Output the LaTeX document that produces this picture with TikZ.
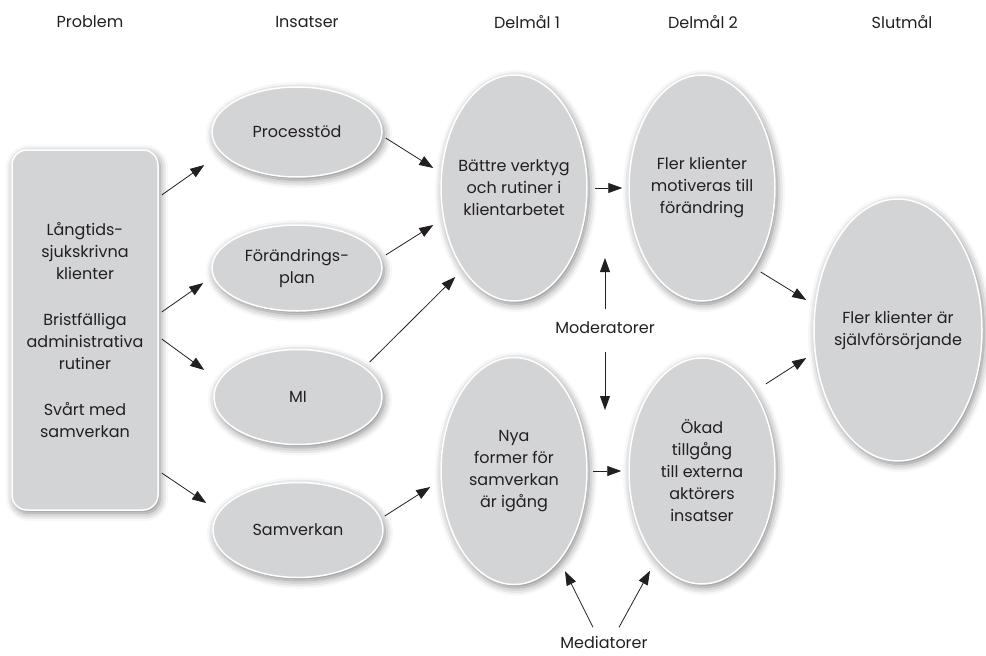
\documentclass[tikz,border=0pt]{standalone}
\usepackage{fontspec}
\setmainfont{Poppins}
\usetikzlibrary{shapes.geometric,arrows.meta,shadows.blur}

\definecolor{cellgray}{RGB}{211,212,214}
\definecolor{inkgray}{RGB}{35,31,32}

\begin{document}
\begin{tikzpicture}[
    x=1pt, y=-1pt,
    font=\fontsize{16}{22}\selectfont,
    every node/.style={text=inkgray},
    soft/.style={blur shadow={shadow xshift=2pt, shadow yshift=-3pt, shadow blur radius=8pt, shadow opacity=50}},
    goal/.style 2 args={ellipse, soft, fill=cellgray, draw=white, line width=1.5pt, align=center,
        inner xsep=-20pt, inner ysep=0pt, minimum width=#1, minimum height=#2},
    problembox/.style={rectangle, soft, rounded corners=15pt, fill=cellgray, draw=white, line width=1.5pt,
        align=center, minimum width=146pt, minimum height=360pt},
    arrow/.style={-{Triangle[length=14pt,width=10pt]}, line width=0.8pt, draw=inkgray}
]
    \useasboundingbox (0,0) rectangle (986,656);

    % column heads
    \node (hprob) at (90,22) {Problem};
    \node (hins) at (307,22) {Insatser};
    \node (hdel1) at (527,22) {Delmål 1};
    \node (hdel2) at (703,22) {Delmål 2};
    \node (hslut) at (902,22) {Slutmål};

    % problem
    \node[problembox] (prob) at (85,330) {Långtids-\\sjukskrivna\\klienter\\[24pt]
        Bristfälliga\\administrativa\\rutiner\\[24pt]Svårt med\\samverkan};

    % insatser
    \node[goal={170pt}{90pt}] (proc) at (297,132) {Processtöd};
    \node[goal={170pt}{86pt}] (plan) at (297,268) {Förändrings-\\plan};
    \node[goal={168pt}{95pt}] (mi) at (298,397) {MI};
    \node[goal={170pt}{95pt}] (samv) at (298,530) {Samverkan};

    % delmal
    \node[goal={146pt}{226pt}] (verk) at (514,188) {Bättre verktyg\\och rutiner i\\klientarbetet};
    \node[goal={146pt}{226pt}] (motiv) at (702,188) {Fler klienter\\motiveras till\\förändring};
    \node[goal={146pt}{227pt}] (nya) at (514,471) {Nya\\former för\\samverkan\\är igång};
    \node[goal={146pt}{226pt}] (okad) at (702,471) {Ökad\\tillgång\\till externa\\aktörers\\insatser};

    % slutmal
    \node[goal={168pt}{262pt}] (slut) at (898,330) {Fler klienter är\\självförsörjande};

    \node (mod) at (605,328) {Moderatorer};
    \node (med) at (604,642) {Mediatorer};
    \coordinate (modup) at (605,258);
    \coordinate (moddown) at (605,410);

    % problem to insatser
    \draw[arrow] ([shift={(3pt,135pt)}]prob.east) -- ([shift={(-7pt,-33pt)}]proc.west);
    \draw[arrow] ([shift={(3pt,18pt)}]prob.east) -- ([shift={(-8pt,-15pt)}]plan.west);
    \draw[arrow] ([shift={(3pt,-9pt)}]prob.east) -- ([shift={(-9pt,27pt)}]mi.west);
    \draw[arrow] ([shift={(3pt,-143pt)}]prob.east) -- ([shift={(-6pt,27pt)}]samv.west);

    % insatser to delmal 1
    \draw[arrow] ([shift={(3pt,-6pt)}]proc.east) -- ([shift={(-7pt,20pt)}]verk.west);
    \draw[arrow] ([shift={(3pt,13pt)}]plan.east) -- ([shift={(-7pt,-37pt)}]verk.west);
    \draw[arrow] ([shift={(-13pt,35pt)}]mi.east) -- ([shift={(15pt,-89pt)}]verk.west);
    \draw[arrow] ([shift={(1pt,14pt)}]samv.east) -- ([shift={(-10pt,-16pt)}]nya.west);

    % delmal 1 to delmal 2
    \draw[arrow] ([xshift=7pt]verk.east) -- ([xshift=-6pt]motiv.west);
    \draw[arrow] ([xshift=5pt]nya.east) -- ([xshift=-7pt]okad.west);

    % delmal 2 to slutmal
    \draw[arrow] ([shift={(-15pt,-84pt)}]motiv.east) -- ([shift={(-7pt,30pt)}]slut.west);
    \draw[arrow] ([shift={(-10pt,87pt)}]okad.east) -- ([shift={(-7pt,-28pt)}]slut.west);

    % moderatorer and mediatorer
    \draw[arrow] ([yshift=9pt]mod.north) -- (modup);
    \draw[arrow] ([yshift=-14pt]mod.south) -- (moddown);
    \draw[arrow] ([shift={(-11pt,5pt)}]med.north) -- ([shift={(51pt,14pt)}]nya.south);
    \draw[arrow] ([shift={(15pt,5pt)}]med.north) -- ([shift={(-52pt,14pt)}]okad.south);
\end{tikzpicture}
\end{document}
